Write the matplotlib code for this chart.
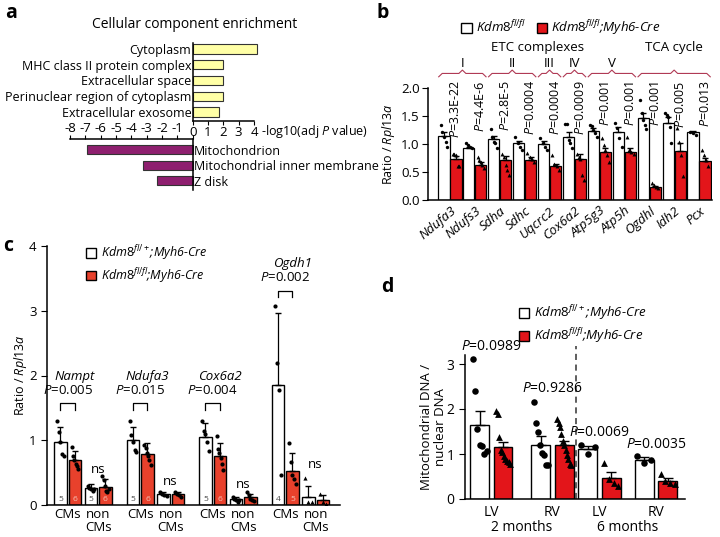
import matplotlib.pyplot as plt
from matplotlib.patches import Patch
from matplotlib.transforms import blended_transform_factory
import numpy as np

plt.rcParams['font.family'] = ['Open Sans', 'DejaVu Sans']
plt.rcParams['font.size'] = 9
plt.rcParams['mathtext.fontset'] = 'custom'
plt.rcParams['mathtext.rm'] = 'Open Sans'
plt.rcParams['mathtext.it'] = 'Open Sans:italic'
plt.rcParams['mathtext.bf'] = 'Open Sans:bold'
plt.rcParams['axes.unicode_minus'] = False
plt.rcParams['axes.linewidth'] = 1.1

# ---- panel a: GO cellular component enrichment
go_up_terms = ["Cytoplasm", "MHC class II protein complex", "Extracellular space",
               "Perinuclear region of cytoplasm", "Extracellular exosome"]
go_up_vals = [4.2, 2.0, 2.0, 2.0, 1.75]
go_down_terms = ["Mitochondrion", "Mitochondrial inner membrane", "Z disk"]
go_down_vals = [-6.9, -3.25, -2.3]

# ---- panel b: qPCR of ETC / TCA genes
b_genes = ["Ndufa3", "Ndufs3", "Sdha", "Sdhc", "Uqcrc2", "Cox6a2",
           "Atp5g3", "Atp5h", "Ogdhl", "Idh2", "Pcx"]
b_ctrl = [1.14, 0.93, 1.09, 1.01, 1.00, 1.13, 1.24, 1.22, 1.46, 1.38, 1.21]
b_ko = [0.73, 0.62, 0.71, 0.72, 0.60, 0.73, 0.86, 0.86, 0.23, 0.88, 0.70]
b_ctrl_sem = [0.07, 0.02, 0.06, 0.04, 0.05, 0.09, 0.05, 0.08, 0.09, 0.10, 0.02]
b_ko_sem = [0.05, 0.05, 0.07, 0.04, 0.05, 0.09, 0.06, 0.06, 0.02, 0.14, 0.05]
b_ctrl_pts = [[1.34, 1.22, 1.12, 1.04, 0.95], [1.01, 0.98, 0.95, 0.92],
              [1.26, 1.13, 1.04, 1.01, 0.92], [1.12, 1.01, 0.95, 0.89],
              [1.10, 1.02, 0.95, 0.89], [1.36, 1.36, 1.07, 1.01, 0.92],
              [1.34, 1.32, 1.25, 1.19, 1.13], [1.37, 1.28, 1.10, 0.95],
              [1.79, 1.55, 1.43, 1.34, 1.26], [1.55, 1.52, 1.49, 1.31, 1.01],
              [1.22, 1.19, 1.16]]
b_ko_pts = [[0.83, 0.82, 0.80, 0.60, 0.60], [0.77, 0.71, 0.68, 0.62, 0.57],
            [0.83, 0.77, 0.62, 0.54, 0.45], [0.84, 0.77, 0.73, 0.68],
            [0.80, 0.65, 0.60, 0.54], [0.83, 0.77, 0.73, 0.45, 0.36],
            [1.10, 0.98, 0.89, 0.80, 0.68], [1.13, 0.90, 0.86, 0.83],
            [0.30, 0.27, 0.24, 0.21], [1.28, 1.04, 0.80, 0.42],
            [0.89, 0.80, 0.71, 0.60]]
b_pvals = ["3.3E-22", "4.4E-6", "2.8E-5", "0.0004", "0.0004", "0.0009",
           "0.001", "0.001", "0.001", "0.005", "0.013"]
b_complexes = [("I", 0, 1), ("II", 2, 3), ("III", 4, 4), ("IV", 5, 5), ("V", 6, 7)]
b_tca = (8, 10)

# ---- panel c: sorted CMs vs non-CMs
c_genes = ["Nampt", "Ndufa3", "Cox6a2", "Ogdh1"]
c_pvals = ["0.005", "0.015", "0.004", "0.002"]
c_cm_ctrl = [0.98, 1.01, 1.05, 1.86]
c_cm_ko = [0.70, 0.78, 0.76, 0.53]
c_non_ctrl = [0.27, 0.17, 0.09, 0.13]
c_non_ko = [0.28, 0.17, 0.12, 0.07]
c_cm_ctrl_sd = [0.22, 0.19, 0.21, 1.10]
c_cm_ko_sd = [0.13, 0.17, 0.20, 0.27]
c_non_ctrl_sd = [0.05, 0.03, 0.03, 0.17]
c_non_ko_sd = [0.12, 0.03, 0.05, 0.09]
c_cm_ctrl_pts = [[1.29, 1.12, 0.97, 0.78, 0.76], [1.29, 1.08, 0.98, 0.85, 0.82],
                 [1.30, 1.15, 1.10, 0.97, 0.83], [3.08, 2.19, 1.77, 0.46]]
c_cm_ko_pts = [[0.90, 0.75, 0.69, 0.64, 0.60, 0.56], [0.92, 0.88, 0.80, 0.75, 0.70, 0.62],
               [1.06, 0.87, 0.80, 0.73, 0.64, 0.54], [0.95, 0.67, 0.46, 0.40, 0.33]]
c_non_ctrl_pts = [[0.30, 0.27, 0.25, 0.22, 0.24], [0.20, 0.17, 0.15, 0.14],
                  [0.12, 0.09, 0.07, 0.05, 0.08], [0.42, 0.05, 0.04]]
c_non_ko_pts = [[0.45, 0.38, 0.30, 0.22, 0.20, 0.25], [0.20, 0.17, 0.16, 0.13],
                [0.20, 0.15, 0.10, 0.08, 0.06], [0.17, 0.04, 0.02]]
c_n_cm_ctrl = ["5", "5", "5", "4"]
c_n_cm_ko = ["6", "6", "6", "5"]
c_n_non_ctrl = ["5", "", "", ""]
c_n_non_ko = ["6", "", "", ""]
c_ns_y = [0.55, 0.36, 0.31, 0.62]

# ---- panel d: mtDNA / nDNA
d_sites = ["LV", "RV", "LV", "RV"]
d_ages = ["2 months", "6 months"]
d_ctrl = [1.64, 1.21, 1.12, 0.87]
d_ko = [1.15, 1.19, 0.47, 0.41]
d_ctrl_sem = [0.31, 0.20, 0.05, 0.06]
d_ko_sem = [0.12, 0.11, 0.12, 0.06]
d_ctrl_pts = [[3.11, 2.39, 1.56, 1.19, 1.17, 1.00, 1.07],
              [2.15, 1.70, 1.50, 1.20, 1.02, 0.98, 0.76, 0.76],
              [1.20, 1.00, 1.15], [0.95, 0.80, 0.86]]
d_ko_pts = [[1.95, 1.88, 1.38, 1.10, 1.05, 0.95, 0.90, 0.85, 0.82, 0.78],
            [1.78, 1.68, 1.60, 1.45, 1.28, 1.20, 1.08, 0.98, 0.90, 0.78, 0.75],
            [0.80, 0.45, 0.35, 0.30], [0.55, 0.40, 0.35, 0.34]]
d_pvals = ["0.0989", "0.9286", "0.0069", "0.0035"]
d_p_y = [3.39, 2.45, 1.47, 1.20]

W, H = 720, 537
RED = "#e3151a"
RED_C = "#e8412c"
PURPLE = "#8e1f6f"
YELLOW = "#ffffa6"
BRACE = "#b03a55"

fig = plt.figure(figsize=(W / 100, H / 100), dpi=100)


def px_axes(x0, y0, x1, y1):
    return fig.add_axes([x0 / W, 1 - y1 / H, (x1 - x0) / W, (y1 - y0) / H])


def jitter(n, spread):
    return np.linspace(-spread, spread, n) if n > 1 else np.zeros(1)


def legend_patches(color):
    return [Patch(facecolor="white", edgecolor="black"), Patch(facecolor=color, edgecolor="black")]


# ================= panel a
FA = 10
fig.text(5 / W, 1 - 13 / H, "a", fontsize=14, fontweight="bold", va="center")
fig.text(195 / W, 1 - 25 / H, "Cellular component enrichment", ha="center", va="center", fontsize=FA)

ax_up = px_axes(70, 40, 254, 121)
ax_up.barh(range(len(go_up_terms)), go_up_vals, height=0.58, color=YELLOW, edgecolor="#333333",
           lw=0.8, clip_on=False)
ax_up.set_xlim(-8, 4)
ax_up.set_ylim(4.57, -0.57)
ax_up.set_yticks(range(len(go_up_terms)), go_up_terms, fontsize=FA)
ax_up.spines["left"].set_position(("data", 0))
ax_up.spines["left"].set_bounds(-0.4, 4.57)
ax_up.spines["bottom"].set_bounds(0, 4)
for s in ["top", "right"]:
    ax_up.spines[s].set_visible(False)
ax_up.set_xticks(range(0, 5))
ax_up.tick_params(axis="y", length=0, pad=1)
ax_up.tick_params(axis="x", length=3, pad=0.5, labelsize=9.5)
ax_up.patch.set_alpha(0)

ax_dn = px_axes(70, 139, 254, 190)
ax_dn.barh(range(len(go_down_terms)), go_down_vals, height=0.6, color=PURPLE, edgecolor="#333333", lw=0.8)
ax_dn.set_xlim(-8, 4)
ax_dn.set_ylim(2.6, -0.7)
ax_dn.yaxis.tick_right()
ax_dn.set_yticks(range(len(go_down_terms)), go_down_terms, fontsize=FA)
ax_dn.spines["right"].set_position(("data", 0))
ax_dn.spines["right"].set_bounds(-0.7, 2.6)
ax_dn.spines["top"].set_bounds(-8, 0)
for s in ["left", "bottom"]:
    ax_dn.spines[s].set_visible(False)
ax_dn.xaxis.tick_top()
ax_dn.set_xticks(range(-8, 1), [str(v) for v in range(-8, 0)] + [""])
ax_dn.tick_params(axis="y", length=0, pad=1)
ax_dn.tick_params(axis="x", length=3, pad=0, labelsize=9.5)
ax_dn.patch.set_alpha(0)
fig.text(261 / W, 1 - 131 / H, "-log10(adj $P$ value)", va="center", fontsize=9)

# ================= panel b
FB = 9.5
fig.text(377 / W, 1 - 13 / H, "b", fontsize=14, fontweight="bold", va="center")
axb = px_axes(428, 88, 712, 200)
xb = np.arange(len(b_genes))
off, wb = 0.24, 0.45
axb.bar(xb - off, b_ctrl, wb, color="white", edgecolor="black", lw=0.9, zorder=2)
axb.bar(xb + off, b_ko, wb, color=RED, edgecolor="black", lw=0.9, zorder=2)
axb.errorbar(xb - off, b_ctrl, yerr=[np.zeros(len(xb)), b_ctrl_sem], fmt="none", ecolor="black", lw=0.9, capsize=2, zorder=3)
axb.errorbar(xb + off, b_ko, yerr=[np.zeros(len(xb)), b_ko_sem], fmt="none", ecolor="black", lw=0.9, capsize=2, zorder=3)
for i in range(len(b_genes)):
    axb.scatter(xb[i] - off + jitter(len(b_ctrl_pts[i]), 0.13), b_ctrl_pts[i], s=6, c="black", marker="o", zorder=4, lw=0)
    axb.scatter(xb[i] + off + jitter(len(b_ko_pts[i]), 0.13), b_ko_pts[i], s=8, c="black", marker="^", zorder=4, lw=0)
    axb.text(xb[i] + off, 2.14, "$P$=" + b_pvals[i], rotation=90, ha="center", va="top", fontsize=9)
axb.set_xlim(-0.88, 10.52)
axb.set_ylim(0, 2.0)
axb.set_yticks([0, 0.5, 1.0, 1.5, 2.0], ["0.0", "0.5", "1.0", "1.5", "2.0"])
axb.set_xticks(xb, b_genes, rotation=40, ha="right", rotation_mode="anchor", style="italic", fontsize=9.5)
axb.tick_params(axis="x", length=0, pad=3)
axb.tick_params(axis="y", length=4, pad=2, labelsize=FB)
axb.set_ylabel(r"Ratio / $\mathit{Rpl13a}$", fontsize=9)
axb.yaxis.set_label_coords(-0.11, 0.5)
for s in ["top", "right"]:
    axb.spines[s].set_visible(False)

tr_b = blended_transform_factory(axb.transData, axb.transAxes)


def brace(x0, x1, y):
    xm = (x0 + x1) / 2
    d, h = 0.14, 0.03
    axb.plot([x0, x0 + d, xm - d, xm, xm + d, x1 - d, x1],
             [y - h, y, y, y + h, y, y, y - h], color=BRACE, lw=0.8, transform=tr_b, clip_on=False)


for name, g0, g1 in b_complexes:
    brace(g0 - 0.45, g1 + 0.45, 1.13)
    axb.text((g0 + g1) / 2, 1.215, name, ha="center", va="center", transform=tr_b, fontsize=FB)
brace(b_tca[0] - 0.45, b_tca[1] + 0.45, 1.13)
axb.text((b_complexes[0][1] + b_complexes[-1][2]) / 2, 1.36, "ETC complexes", ha="center", va="center",
         transform=tr_b, fontsize=FB)
axb.text((b_tca[0] + b_tca[1]) / 2, 1.36, "TCA cycle", ha="center", va="center", transform=tr_b, fontsize=FB)

fig.legend(handles=legend_patches(RED), labels=[r"$Kdm8^{fl/fl}$", r"$Kdm8^{fl/fl}$;Myh6-Cre"],
           loc="center", ncol=2, bbox_to_anchor=(561 / W, 1 - 28 / H), frameon=False,
           prop={"style": "italic", "size": 9.5}, handlelength=0.8, handleheight=0.8,
           handletextpad=0.3, columnspacing=0.8, borderpad=0)

# ================= panel c
FC = 9.5
fig.text(3 / W, 1 - 246 / H, "c", fontsize=14, fontweight="bold", va="center")
axc = px_axes(47, 246, 340, 505)
base = np.arange(len(c_genes)) * 5
wc = 0.88
pos = [base, base + 1, base + 2.1, base + 3.1]
means = [c_cm_ctrl, c_cm_ko, c_non_ctrl, c_non_ko]
sds = [c_cm_ctrl_sd, c_cm_ko_sd, c_non_ctrl_sd, c_non_ko_sd]
pts = [c_cm_ctrl_pts, c_cm_ko_pts, c_non_ctrl_pts, c_non_ko_pts]
ns = [c_n_cm_ctrl, c_n_cm_ko, c_n_non_ctrl, c_n_non_ko]
cols = ["white", RED_C, "white", RED_C]
for k in range(4):
    axc.bar(pos[k], means[k], wc, color=cols[k], edgecolor="black", lw=1.0, zorder=2)
    axc.errorbar(pos[k], means[k], yerr=[np.zeros(len(base)), sds[k]], fmt="none", ecolor="black",
                 lw=0.9, capsize=2.5, zorder=3)
    for i in range(len(c_genes)):
        mk = "^" if (k >= 2 and i == 3) else "o"
        axc.scatter(pos[k][i] + jitter(len(pts[k][i]), 0.22), pts[k][i], s=9, c="black", marker=mk, zorder=4, lw=0)
        axc.text(pos[k][i], 0.09, ns[k][i], ha="center", va="center", fontsize=6,
                 color="#444444" if cols[k] == "white" else "#f3c3b8", zorder=5)
for i in range(len(c_genes)):
    x0, x1 = pos[0][i], pos[1][i]
    top = max(c_cm_ctrl[i] + c_cm_ctrl_sd[i], c_cm_ko[i] + c_cm_ko_sd[i])
    yb = 1.57 if i < 3 else top + 0.35
    axc.plot([x0, x0, x1, x1], [yb - 0.1, yb, yb, yb - 0.1], color="black", lw=0.9)
    axc.text((x0 + x1) / 2, yb + 0.1, "$P$=" + c_pvals[i], ha="center", va="bottom", fontsize=FC)
    axc.text((x0 + x1) / 2 + 0.5, yb + 0.42, c_genes[i], ha="center", va="center", style="italic", fontsize=FC)
    axc.text((pos[2][i] + pos[3][i]) / 2, c_ns_y[i], "ns", ha="center", va="center", fontsize=FC)
axc.set_xlim(-0.93, 19.28)
axc.set_ylim(0, 4)
axc.set_yticks(range(5))
xt = list(base + 0.5) + list(base + 2.6)
axc.set_xticks(xt, ["CMs"] * 4 + ["non\nCMs"] * 4, fontsize=FC, linespacing=1.0)
axc.tick_params(axis="x", length=0, pad=2)
axc.tick_params(axis="y", length=4, labelsize=FC)
axc.set_ylabel(r"Ratio / $\mathit{Rpl13a}$", fontsize=9)
axc.yaxis.set_label_coords(-0.06, 0.5)
for s in ["top", "right"]:
    axc.spines[s].set_visible(False)
fig.legend(handles=legend_patches(RED_C), labels=[r"$Kdm8^{fl/+}$;Myh6-Cre", r"$Kdm8^{fl/fl}$;Myh6-Cre"],
           loc="upper left", bbox_to_anchor=(80 / W, 1 - 237 / H), frameon=False,
           prop={"style": "italic", "size": 9}, handlelength=0.8, handleheight=0.8,
           handletextpad=0.4, labelspacing=0.3, borderpad=0)

# ================= panel d
FD = 10
fig.text(381 / W, 1 - 287 / H, "d", fontsize=14, fontweight="bold", va="center")
axd = px_axes(465, 355, 685, 499)
xd_ctrl = np.array([0, 2.6, 4.6, 7.0])
xd_ko = xd_ctrl + 1.0
wd = 0.8
axd.bar(xd_ctrl, d_ctrl, wd, color="white", edgecolor="black", lw=1.0, zorder=2)
axd.bar(xd_ko, d_ko, wd, color=RED, edgecolor="black", lw=1.0, zorder=2)
axd.errorbar(xd_ctrl, d_ctrl, yerr=[np.zeros(4), d_ctrl_sem], fmt="none", ecolor="black", lw=1.0, capsize=3.5, zorder=3)
axd.errorbar(xd_ko, d_ko, yerr=[np.zeros(4), d_ko_sem], fmt="none", ecolor="black", lw=1.0, capsize=3.5, zorder=3)
for i in range(4):
    axd.scatter(xd_ctrl[i] + jitter(len(d_ctrl_pts[i]), 0.3), d_ctrl_pts[i], s=22, c="black", marker="o", zorder=4, lw=0)
    axd.scatter(xd_ko[i] + jitter(len(d_ko_pts[i]), 0.3), d_ko_pts[i], s=24, c="black", marker="^", zorder=4, lw=0)
    axd.text((xd_ctrl[i] + xd_ko[i]) / 2, d_p_y[i], "$P$=" + d_pvals[i], ha="center", va="center", fontsize=FD)
axd.plot([4.1, 4.1], [0, 3.4], ls=(0, (4, 3)), color="#333333", lw=1.1, clip_on=False)
axd.set_xlim(-0.62, 8.74)
axd.set_ylim(0, 3.2)
axd.set_yticks(range(4))
axd.set_xticks((xd_ctrl + xd_ko) / 2, d_sites, fontsize=FD)
axd.tick_params(axis="x", length=0, pad=4)
axd.tick_params(axis="y", length=4, labelsize=FD)
axd.set_ylabel("Mitochondrial DNA /\nnuclear DNA", fontsize=9.5, linespacing=1.1)
axd.yaxis.set_label_coords(-0.08, 0.5)
tr_d = blended_transform_factory(axd.transData, axd.transAxes)
axd.text((xd_ctrl[0] + xd_ko[1]) / 2, -0.2, d_ages[0], ha="center", va="center", transform=tr_d, fontsize=FD)
axd.text((xd_ctrl[2] + xd_ko[3]) / 2, -0.2, d_ages[1], ha="center", va="center", transform=tr_d, fontsize=FD)
for s in ["top", "right"]:
    axd.spines[s].set_visible(False)
fig.legend(handles=legend_patches(RED), labels=[r"$Kdm8^{fl/+}$;Myh6-Cre", r"$Kdm8^{fl/fl}$;Myh6-Cre"],
           loc="upper left", bbox_to_anchor=(512 / W, 1 - 297 / H), frameon=False,
           prop={"style": "italic", "size": 9.5}, handlelength=0.8, handleheight=0.8,
           handletextpad=0.4, labelspacing=0.3, borderpad=0)

fig.savefig("out.png", dpi=100)
